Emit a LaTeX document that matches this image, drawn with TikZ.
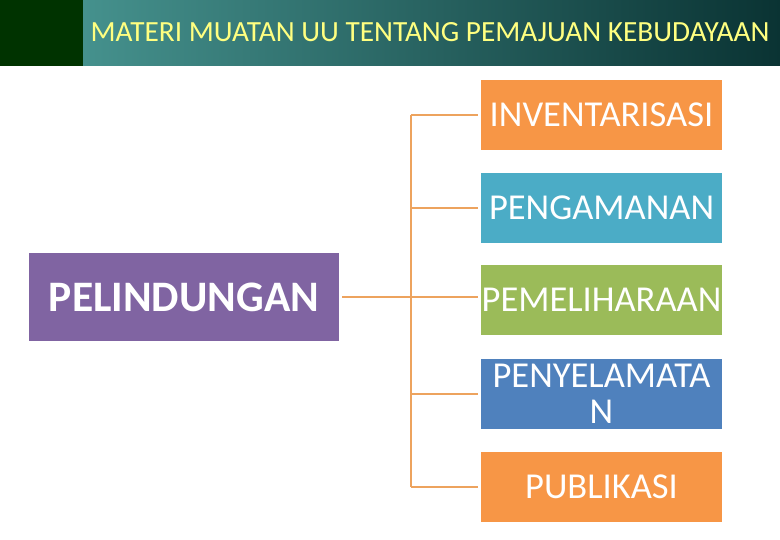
\documentclass[tikz,border=0pt]{standalone}
\usepackage{fontspec}
\setmainfont{Carlito}
\usetikzlibrary{positioning}
\definecolor{headgreen}{HTML}{003300}
\definecolor{headleft}{HTML}{45918D}
\definecolor{headright}{HTML}{0A3333}
\definecolor{headtext}{HTML}{FFFF80}
\definecolor{boxorange}{HTML}{F79646}
\definecolor{boxteal}{HTML}{4BACC6}
\definecolor{boxgreen}{HTML}{9BBB59}
\definecolor{boxblue}{HTML}{4F81BD}
\definecolor{boxpurple}{HTML}{8064A2}
\definecolor{linkorange}{HTML}{EDA35E}

\begin{document}
\begin{tikzpicture}[x=1pt, y=-1pt,
  item/.style={rectangle, minimum width=241pt, minimum height=70pt, inner sep=0pt, text=white, align=center, font=\fontsize{36.5}{36}\selectfont},
  link/.style={draw=linkorange, line width=2.5pt}]
\useasboundingbox (0,0) rectangle (780,540);

% Header bar
\fill[headgreen] (0,0) rectangle (83,66);
\shade[left color=headleft, right color=headright] (83,0) rectangle (780,66);
\node[text=headtext, font=\fontsize{29.3}{32}\selectfont] (title) at (430,32) {MATERI MUATAN UU TENTANG PEMAJUAN KEBUDAYAAN};

% Main topic
\node[rectangle, fill=boxpurple, minimum width=310pt, minimum height=88pt, inner sep=0pt, text=white, font=\bfseries\fontsize{43.5}{48}\selectfont] (pel) at (184,297) {PELINDUNGAN};

% Sub topics
\node[item, fill=boxorange] (inv) at (601.5,115) {INVENTARISASI};
\node[item, fill=boxteal] (pen) at (601.5,208) {PENGAMANAN};
\node[item, fill=boxgreen] (pem) at (601.5,300) {PEMELIHARAAN};
\node[item, fill=boxblue] (pny) at (601.5,394) {PENYELAMATA\\N};
\node[item, fill=boxorange] (pub) at (601.5,487) {PUBLIKASI};

% Connectors
\coordinate (trunk) at (411,0);
\draw[link] (trunk |- inv) -- (trunk |- pub);
\draw[link] ([xshift=3pt]pel.east) -- (trunk |- pel);
\foreach \n in {inv,pen,pny,pub}
  \draw[link] (trunk |- \n) -- ([xshift=-3pt]\n.west);
\draw[link] (trunk |- pel) -- ([xshift=-3pt]pem.west |- pel);
\end{tikzpicture}
\end{document}
